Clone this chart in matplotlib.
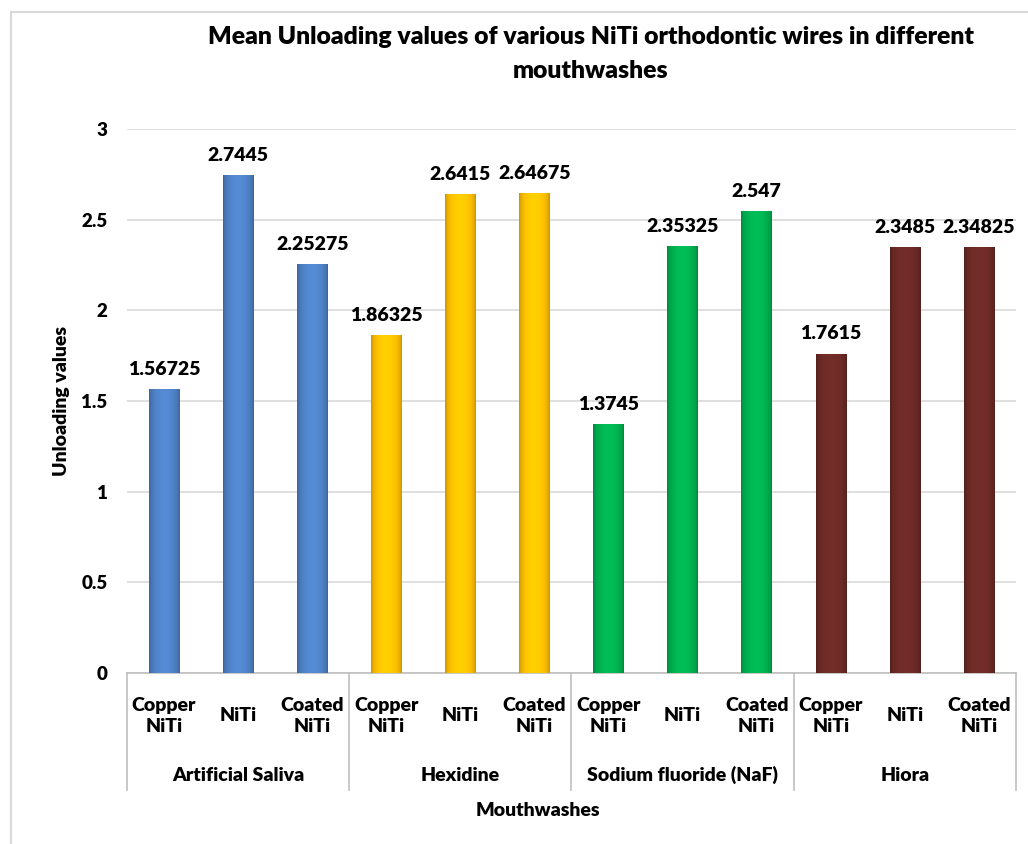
import matplotlib.pyplot as plt
import matplotlib.transforms as mtransforms
from matplotlib.colors import to_rgb
from matplotlib.lines import Line2D
import numpy as np

plt.rcParams['font.family'] = ['Lato', 'DejaVu Sans']

groups = ["Artificial Saliva", "Hexidine", "Sodium fluoride (NaF)", "Hiora"]
wires = ["Copper\nNiTi", "NiTi", "Coated\nNiTi"]
values = [1.56725, 2.7445, 2.25275,
          1.86325, 2.6415, 2.64675,
          1.3745, 2.35325, 2.547,
          1.7615, 2.3485, 2.34825]
value_labels = ["1.56725", "2.7445", "2.25275",
                "1.86325", "2.6415", "2.64675",
                "1.3745", "2.35325", "2.547",
                "1.7615", "2.3485", "2.34825"]
group_colors = ["#4F81C6", "#FFC000", "#00B050", "#6B2A26"]
W = 'heavy'

fig = plt.figure(figsize=(10.28, 8.44), dpi=100)
# chart border (only top and left edges are visible in the crop)
bx, by = 11 / 1028, 1 - 12 / 844
fig.lines.append(Line2D([bx, 1], [by, by], transform=fig.transFigure,
                        color='#D9D9D9', linewidth=1.5))
fig.lines.append(Line2D([bx, bx], [0, by], transform=fig.transFigure,
                        color='#D9D9D9', linewidth=1.5))

ax = fig.add_axes([0.1235, 0.2026, 0.8648, 0.6446])

n = len(values)
x = np.arange(n)
width = 0.41
colors = [group_colors[i // 3] for i in range(n)]
bars = ax.bar(x, values, width=width, color=colors, zorder=2)

# shading for the bevelled look
prof = np.linspace(0, 1, 64)
shade = 0.75 + 0.33 * np.sin(np.pi * prof) ** 0.5
for b, c in zip(bars, colors):
    rgb = np.array(to_rgb(c))
    img = np.clip(rgb[None, :] * shade[:, None], 0, 1)[None, :, :]
    x0, w, h = b.get_x(), b.get_width(), b.get_height()
    im = ax.imshow(img, extent=(x0, x0 + w, 0, h), aspect='auto', zorder=3,
                   interpolation='bicubic')
    im.set_clip_path(b)

for xi, v, lab in zip(x, values, value_labels):
    ax.annotate(lab, (xi, v), xytext=(0, 8), textcoords='offset points',
                ha='center', va='bottom', fontsize=14, fontweight=W)

ax.set_xlim(-0.5, n - 0.5)
ax.set_ylim(0, 3)
ax.set_yticks(np.arange(0, 3.01, 0.5))
ax.set_yticklabels(["0", "0.5", "1", "1.5", "2", "2.5", "3"], fontweight=W)
ax.yaxis.grid(True, color='#D9D9D9', linewidth=1.2)
ax.set_axisbelow(True)
for s in ['top', 'right', 'left']:
    ax.spines[s].set_visible(False)
ax.spines['bottom'].set_color('#BFBFBF')
ax.spines['bottom'].set_linewidth(1.2)
ax.tick_params(axis='y', length=0, labelsize=13.5, pad=14)
ax.set_xticks([])

tr = mtransforms.blended_transform_factory(ax.transData, ax.transAxes)
for i in range(n):
    ax.text(x[i], -0.079, wires[i % 3], transform=tr, ha='center', va='center',
            fontsize=14, fontweight=W, linespacing=1.3)
for g, name in enumerate(groups):
    ax.text(3 * g + 1, -0.1875, name, transform=tr, ha='center', va='center',
            fontsize=14, fontweight=W)
for b in np.arange(-0.5, n, 3):
    ax.plot([b, b], [0, -0.215], transform=tr, color='#BFBFBF', linewidth=1.2,
            clip_on=False)

ax.text(0.462, -0.252, "Mouthwashes", transform=ax.transAxes, ha='center',
        va='center', fontsize=14, fontweight=W)
ax.set_ylabel("Unloading values", fontsize=14, fontweight=W, labelpad=8)
ax.text(0.522, 1.138, "Mean Unloading values of various NiTi orthodontic wires in different\nmouthwashes",
        transform=ax.transAxes, ha='center', va='center', fontsize=17.8,
        fontweight=W, linespacing=1.65)

fig.savefig("out.png", dpi=100)
